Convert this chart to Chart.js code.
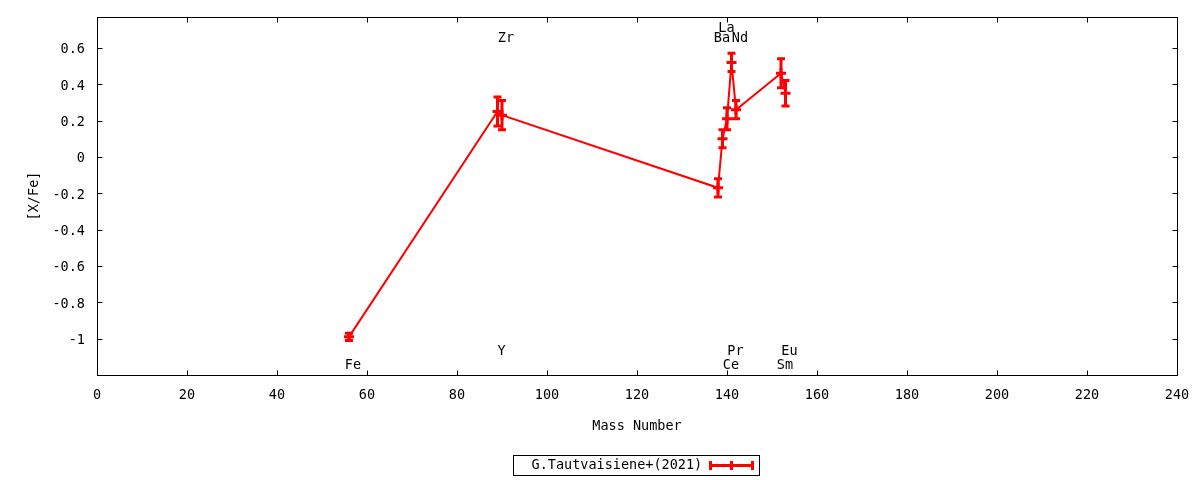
<!doctype html>
<html lang="en">
    <head>
        <meta charset="UTF-8" />
        <title>[X/Fe] vs Mass Number</title>
        <script src="https://cdn.jsdelivr.net/npm/chart.js"></script>
        <style>
            html,
            body {
                margin: 0;
                padding: 0;
                background: #fff;
            }

            #wrap {
                width: 1200px;
                height: 480px;
            }
        </style>
    </head>
    <body>
        <div id="wrap"><canvas id="chart"></canvas></div>
        <script>
            // values
            const elements = ["Fe", "Y", "Zr", "Ba", "La", "Ce", "Pr", "Nd", "Sm", "Eu"];
            const massNumber = [56, 89, 90, 138, 139, 140, 141, 142, 152, 153];
            const xFe = [-0.99, 0.25, 0.23, -0.17, 0.1, 0.21, 0.52, 0.26, 0.46, 0.35];
            const xFeErr = [0.02, 0.08, 0.08, 0.05, 0.05, 0.06, 0.05, 0.05, 0.08, 0.07];
            const xTicks = [0, 20, 40, 60, 80, 100, 120, 140, 160, 180, 200, 220, 240];
            const yTicks = [-1, -0.8, -0.6, -0.4, -0.2, 0, 0.2, 0.4, 0.6];
            const seriesLabel = "G.Tautvaisiene+(2021)";

            /*** * * ***/

            // where gnuplot put each element name: above or below the points
            const labelRow = ["low", "mid", "top", "top", "top2", "low", "mid", "top", "low", "mid"];
            const rowValue = { top2: 0.717, top: 0.662, mid: -1.058, low: -1.135 };

            const RED = "#ff0000";
            const FONT = "'DejaVu Sans Mono', monospace";

            Chart.defaults.font.family = FONT;
            Chart.defaults.font.size = 13;
            Chart.defaults.color = "#000";

            const frame = {
                id: "frame",
                afterDraw(chart) {
                    const { ctx, chartArea: a, scales } = chart;
                    const L = Math.round(a.left) + 0.5;
                    const R = Math.round(a.right) + 0.5;
                    const T = Math.round(a.top) + 0.5;
                    const B = Math.round(a.bottom) + 0.5;
                    ctx.save();
                    ctx.strokeStyle = "#000";
                    ctx.lineWidth = 1;
                    ctx.strokeRect(L, T, R - L, B - T);
                    ctx.beginPath();
                    scales.x.ticks.forEach((t) => {
                        const px = Math.round(scales.x.getPixelForValue(t.value)) + 0.5;
                        ctx.moveTo(px, B);
                        ctx.lineTo(px, B - 5);
                        ctx.moveTo(px, T);
                        ctx.lineTo(px, T + 5);
                    });
                    scales.y.ticks.forEach((t) => {
                        const py = Math.round(scales.y.getPixelForValue(t.value)) + 0.5;
                        ctx.moveTo(L, py);
                        ctx.lineTo(L + 5, py);
                        ctx.moveTo(R, py);
                        ctx.lineTo(R - 5, py);
                    });
                    ctx.stroke();
                    ctx.restore();
                },
            };

            const errorBars = {
                id: "errorBars",
                afterDatasetsDraw(chart) {
                    const { ctx, scales } = chart;
                    ctx.save();
                    ctx.strokeStyle = RED;
                    ctx.lineWidth = 3;
                    ctx.beginPath();
                    massNumber.forEach((m, i) => {
                        const px = scales.x.getPixelForValue(m);
                        const hi = scales.y.getPixelForValue(xFe[i] + xFeErr[i]);
                        const lo = scales.y.getPixelForValue(xFe[i] - xFeErr[i]);
                        ctx.moveTo(px, hi);
                        ctx.lineTo(px, lo);
                        ctx.moveTo(px - 4, hi);
                        ctx.lineTo(px + 4, hi);
                        ctx.moveTo(px - 4, lo);
                        ctx.lineTo(px + 4, lo);
                    });
                    ctx.stroke();
                    ctx.restore();
                },
            };

            const elementLabels = {
                id: "elementLabels",
                afterDraw(chart) {
                    const { ctx, scales } = chart;
                    ctx.save();
                    ctx.font = "13.5px " + FONT;
                    ctx.fillStyle = "#000";
                    ctx.textAlign = "center";
                    ctx.textBaseline = "middle";
                    elements.forEach((el, i) => {
                        const px = scales.x.getPixelForValue(massNumber[i]) + 4;
                        const py = scales.y.getPixelForValue(rowValue[labelRow[i]]) + 2;
                        ctx.fillText(el, px, py);
                    });
                    ctx.restore();
                },
            };

            const boxLegend = {
                id: "boxLegend",
                afterDraw(chart) {
                    const { ctx, chartArea: a } = chart;
                    const cx = (a.left + a.right) / 2;
                    const left = Math.round(cx - 124) + 0.5;
                    const top = 455.5;
                    ctx.save();
                    ctx.strokeStyle = "#000";
                    ctx.lineWidth = 1;
                    ctx.strokeRect(left, top, 246, 20);
                    ctx.font = "13.5px " + FONT;
                    ctx.fillStyle = "#000";
                    ctx.textBaseline = "middle";
                    ctx.fillText(chart.data.datasets[0].label, left + 18, top + 10);
                    const x0 = left + 197;
                    const x1 = left + 239;
                    const ym = top + 10;
                    ctx.strokeStyle = RED;
                    ctx.lineWidth = 3;
                    ctx.beginPath();
                    ctx.moveTo(x0, ym);
                    ctx.lineTo(x1, ym);
                    [x0, (x0 + x1) / 2, x1].forEach((xx) => {
                        ctx.moveTo(xx, ym - 4.5);
                        ctx.lineTo(xx, ym + 4.5);
                    });
                    ctx.stroke();
                    ctx.restore();
                },
            };

            new Chart(document.getElementById("chart"), {
                type: "scatter",
                data: {
                    datasets: [
                        {
                            label: seriesLabel,
                            data: massNumber.map((m, i) => ({ x: m, y: xFe[i] })),
                            showLine: true,
                            borderColor: RED,
                            backgroundColor: RED,
                            borderWidth: 2,
                            pointStyle: "cross",
                            pointRadius: 5,
                            pointBorderWidth: 3,
                            pointHoverRadius: 5,
                        },
                    ],
                },
                options: {
                    responsive: true,
                    maintainAspectRatio: false,
                    animation: false,
                    events: [],
                    layout: { padding: { top: 17, right: 23, left: 0, bottom: 0 } },
                    plugins: {
                        legend: { display: false },
                        tooltip: { enabled: false },
                    },
                    scales: {
                        x: {
                            type: "linear",
                            min: 0,
                            max: 240,
                            afterBuildTicks: (s) => {
                                s.ticks = xTicks.map((v) => ({ value: v }));
                            },
                            afterFit: (s) => {
                                s.height = 105;
                                s.paddingLeft = 0;
                                s.paddingRight = 0;
                            },
                            grid: { display: false, drawTicks: false },
                            border: { display: false },
                            ticks: { padding: 12, maxRotation: 0, font: { size: 13.5 } },
                            title: {
                                display: true,
                                text: "Mass Number",
                                font: { size: 13.5 },
                                padding: { top: 0, bottom: 45 },
                            },
                        },
                        y: {
                            type: "linear",
                            min: -1.2,
                            max: 0.77,
                            afterBuildTicks: (s) => {
                                s.ticks = yTicks.map((v) => ({ value: v }));
                            },
                            afterFit: (s) => {
                                s.width = 97;
                                s.paddingTop = 0;
                                s.paddingBottom = 0;
                            },
                            grid: { display: false, drawTicks: false },
                            border: { display: false },
                            ticks: {
                                padding: 12,
                                labelOffset: 2,
                                font: { size: 13.5 },
                                callback: (v) => String(Math.round(v * 10) / 10),
                            },
                            title: {
                                display: true,
                                text: "[X/Fe]",
                                font: { size: 13.5 },
                                padding: { top: 26, bottom: 0 },
                            },
                        },
                    },
                },
                plugins: [frame, errorBars, elementLabels, boxLegend],
            });
        </script>
    </body>
</html>
